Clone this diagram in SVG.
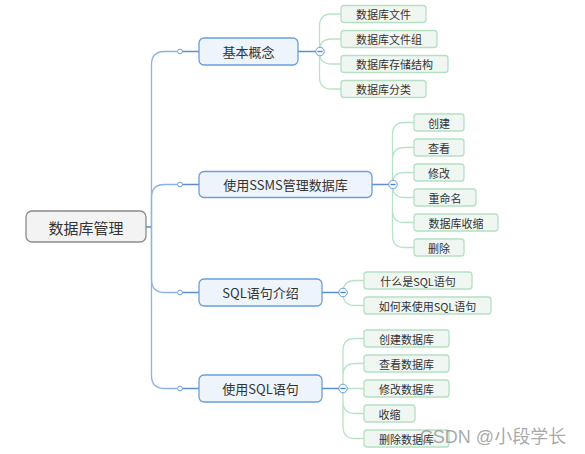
<svg xmlns="http://www.w3.org/2000/svg" width="585" height="454" viewBox="0 0 585 454">
<style>
text{font-family:"Noto Sans CJK SC","Liberation Sans",sans-serif;fill:#333;text-anchor:middle;dominant-baseline:central}
.root rect{fill:#f3f3f3;stroke:#8a8a8a;stroke-width:1.3}
.root text{font-size:15px}
.main rect{fill:#eef4fb;stroke:#6a9fdc;stroke-width:1.3}
.main text{font-size:13px}
.leaf rect{fill:#f0f7f2;stroke:#b5e0c2;stroke-width:1.3}
.leaf text{font-size:11px}
.bl{fill:none;stroke:#8cb3e3;stroke-width:1.3}
.bd{fill:none;stroke:#5b8fd2;stroke-width:1.6}
.gl{fill:none;stroke:#b8e3c5;stroke-width:1.3}
.dot{fill:#fff;stroke:#6a9fdc;stroke-width:1}
.col{fill:#f4f8fd;stroke:#6a9fdc;stroke-width:1}
.minus{stroke:#4a7fc2;stroke-width:1.2}
</style>
<g id="connectors">
  <path class="bd" d="M146 227H151.5"/>
  <path class="bl" d="M151.5 227V64.5Q151.5 51.5 164.5 51.5H177.5"/>
  <path class="bl" d="M151.5 227V197.5Q151.5 184.5 164.5 184.5H177.5"/>
  <path class="bl" d="M151.5 227V279.5Q151.5 292.5 164.5 292.5H177.5"/>
  <path class="bl" d="M151.5 227V375.5Q151.5 388.5 164.5 388.5H177.5"/>
  <path class="bd" d="M182 51.5H199M182 184.5H199M182 292.5H199M182 388.5H199"/>
  <path class="bd" d="M298 51.5H316M372 184.5H389M322 292.5H339M322 388.5H339"/>
  <path class="gl" d="M319.5 51.5V26Q319.5 14 331.5 14H341M319.5 51.5V51Q319.5 39 331.5 39H341M319.5 51.5V52Q319.5 64 331.5 64H341M319.5 51.5V77Q319.5 89 331.5 89H341"/>
  <path class="gl" d="M392.5 184.5V134.5Q392.5 122.5 404.5 122.5H414M392.5 184.5V159.5Q392.5 147.5 404.5 147.5H414M392.5 184.5V184.5Q392.5 172.5 404.5 172.5H414M392.5 184.5V185.5Q392.5 197.5 404.5 197.5H414M392.5 184.5V210.5Q392.5 222.5 404.5 222.5H414M392.5 184.5V235.5Q392.5 247.5 404.5 247.5H414"/>
  <path class="gl" d="M343 292.5V292.5Q343 280.5 355 280.5H364M343 292.5V293.5Q343 305.5 355 305.5H364"/>
  <path class="gl" d="M343 388.5V350.5Q343 338.5 355 338.5H364M343 388.5V375.5Q343 363.5 355 363.5H364M343 388.5H364M343 388.5V401.5Q343 413.5 355 413.5H364M343 388.5V426.5Q343 438.5 355 438.5H364"/>
  <circle class="dot" cx="180" cy="51.5" r="2.4"/>
  <circle class="dot" cx="180" cy="184.5" r="2.4"/>
  <circle class="dot" cx="180" cy="292.5" r="2.4"/>
  <circle class="dot" cx="180" cy="388.5" r="2.4"/>
  <circle class="col" cx="320" cy="51.5" r="4.3"/><path class="minus" d="M317.5 51.5H322.5"/>
  <circle class="col" cx="393" cy="184.5" r="4.3"/><path class="minus" d="M390.5 184.5H395.5"/>
  <circle class="col" cx="343" cy="292.5" r="4.3"/><path class="minus" d="M340.5 292.5H345.5"/>
  <circle class="col" cx="343" cy="388.5" r="4.3"/><path class="minus" d="M340.5 388.5H345.5"/>
</g>
<g id="root" class="root"><rect x="26" y="211" width="120" height="31" rx="6"/><text x="86" y="227">数据库管理</text></g>
<g id="n1" class="main"><rect x="199" y="38" width="99" height="27" rx="5"/><text x="248.5" y="51.5">基本概念</text></g>
<g id="n2" class="main"><rect x="199" y="171.5" width="173" height="26" rx="5"/><text x="285.5" y="184.5">使用SSMS管理数据库</text></g>
<g id="n3" class="main"><rect x="199" y="279" width="123" height="27" rx="5"/><text x="260.5" y="292.5">SQL语句介绍</text></g>
<g id="n4" class="main"><rect x="199" y="375" width="123" height="27" rx="5"/><text x="260.5" y="388.5">使用SQL语句</text></g>
<g id="n1a" class="leaf"><rect x="341" y="5.5" width="85" height="17" rx="3"/><text x="383.5" y="14">数据库文件</text></g>
<g id="n1b" class="leaf"><rect x="341" y="30.5" width="96" height="17" rx="3"/><text x="389" y="39">数据库文件组</text></g>
<g id="n1c" class="leaf"><rect x="341" y="55.5" width="107" height="17" rx="3"/><text x="394.5" y="64">数据库存储结构</text></g>
<g id="n1d" class="leaf"><rect x="341" y="80.5" width="85" height="17" rx="3"/><text x="383.5" y="89">数据库分类</text></g>
<g id="n2a" class="leaf"><rect x="414" y="114" width="50" height="17" rx="3"/><text x="439" y="122.5">创建</text></g>
<g id="n2b" class="leaf"><rect x="414" y="139" width="50" height="17" rx="3"/><text x="439" y="147.5">查看</text></g>
<g id="n2c" class="leaf"><rect x="414" y="164" width="50" height="17" rx="3"/><text x="439" y="172.5">修改</text></g>
<g id="n2d" class="leaf"><rect x="414" y="189" width="62" height="17" rx="3"/><text x="445" y="197.5">重命名</text></g>
<g id="n2e" class="leaf"><rect x="414" y="214" width="84" height="17" rx="3"/><text x="456" y="222.5">数据库收缩</text></g>
<g id="n2f" class="leaf"><rect x="414" y="239" width="50" height="17" rx="3"/><text x="439" y="247.5">删除</text></g>
<g id="n3a" class="leaf"><rect x="364" y="272" width="108" height="17" rx="3"/><text x="418" y="280.5">什么是SQL语句</text></g>
<g id="n3b" class="leaf"><rect x="364" y="297" width="127" height="17" rx="3"/><text x="427.5" y="305.5">如何来使用SQL语句</text></g>
<g id="n4a" class="leaf"><rect x="364" y="330" width="85" height="17" rx="3"/><text x="406.5" y="338.5">创建数据库</text></g>
<g id="n4b" class="leaf"><rect x="364" y="355" width="85" height="17" rx="3"/><text x="406.5" y="363.5">查看数据库</text></g>
<g id="n4c" class="leaf"><rect x="364" y="380" width="85" height="17" rx="3"/><text x="406.5" y="388.5">修改数据库</text></g>
<g id="n4d" class="leaf"><rect x="364" y="405" width="51" height="17" rx="3"/><text x="389.5" y="413.5">收缩</text></g>
<g id="n4e" class="leaf"><rect x="364" y="430" width="85" height="17" rx="3"/><text x="406.5" y="438.5">删除数据库</text></g>
<text x="493" y="437" style="font-size:18px;fill:#9a9a9a;fill-opacity:0.85;font-family:'Liberation Sans','Noto Sans CJK SC',sans-serif">CSDN @小段学长</text>
</svg>
